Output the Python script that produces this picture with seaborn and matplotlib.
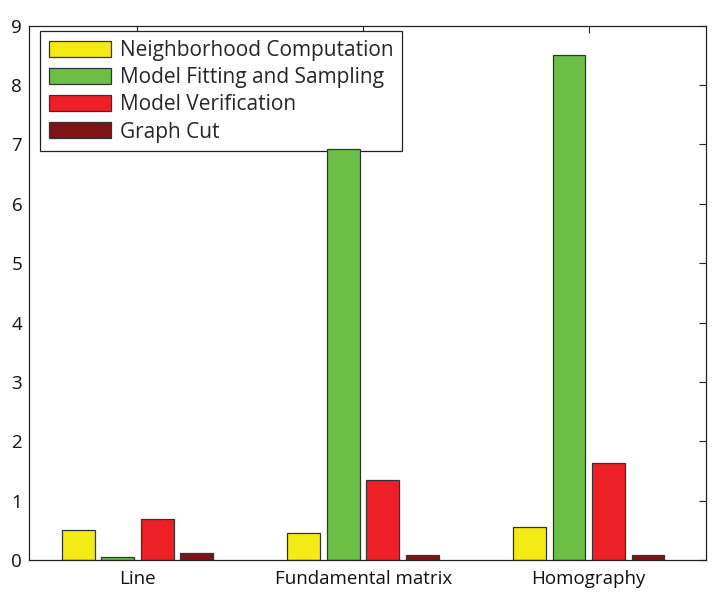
import numpy as np
import pandas as pd
import matplotlib
matplotlib.use('Agg')
import matplotlib.pyplot as plt
import seaborn as sns

# data
tasks = ['Line', 'Fundamental matrix', 'Homography']
components = ['Neighborhood Computation', 'Model Fitting and Sampling',
              'Model Verification', 'Graph Cut']
neighborhood = [0.50, 0.45, 0.55]
fitting = [0.05, 6.93, 8.51]
verification = [0.69, 1.35, 1.63]
graph_cut = [0.11, 0.08, 0.08]
colors = ['#F5EB14', '#6BBF45', '#EE2027', '#7F1416']

rows = []
for comp, vals in zip(components, [neighborhood, fitting, verification, graph_cut]):
    for task, v in zip(tasks, vals):
        rows.append({'task': task, 'component': comp, 'time': v})
df = pd.DataFrame(rows)

sns.set_style('white')
plt.rcParams['font.family'] = ['Open Sans', 'DejaVu Sans']

fig = plt.figure(figsize=(7.28, 6.03), dpi=100)
ax = fig.add_axes([0.040, 0.0713, 0.930, 0.886])

sns.barplot(data=df, x='task', y='time', hue='component', order=tasks,
            hue_order=components, palette=colors, width=0.7, gap=0.17,
            edgecolor='#333333', linewidth=0.9, saturation=1, ax=ax)

ax.set_xlim(-0.48, 2.52)
ax.set_ylim(0, 9)
ax.set_yticks(range(10))
ax.set_xlabel('')
ax.set_ylabel('')
for s in ax.spines.values():
    s.set_color('#222222')
    s.set_linewidth(0.9)
ax.tick_params(axis='both', direction='in', length=5, width=0.8,
               top=True, right=True, labelsize=13.5, colors='#222222',
               labelcolor='#111111')
ax.tick_params(axis='x', pad=7)
ax.tick_params(axis='y', pad=5)

leg = ax.legend(loc='upper left', bbox_to_anchor=(0.016, 0.99), fontsize=15,
                frameon=True, fancybox=False, edgecolor='#222222', framealpha=1,
                handlelength=3.0, handleheight=0.8, borderpad=0.42,
                labelspacing=0.3, handletextpad=0.4, borderaxespad=0)
leg.get_frame().set_linewidth(0.9)
leg.set_zorder(0.5)  # the tall green bar pokes over the legend edge, like the original

fig.savefig('out.png', dpi=100)
